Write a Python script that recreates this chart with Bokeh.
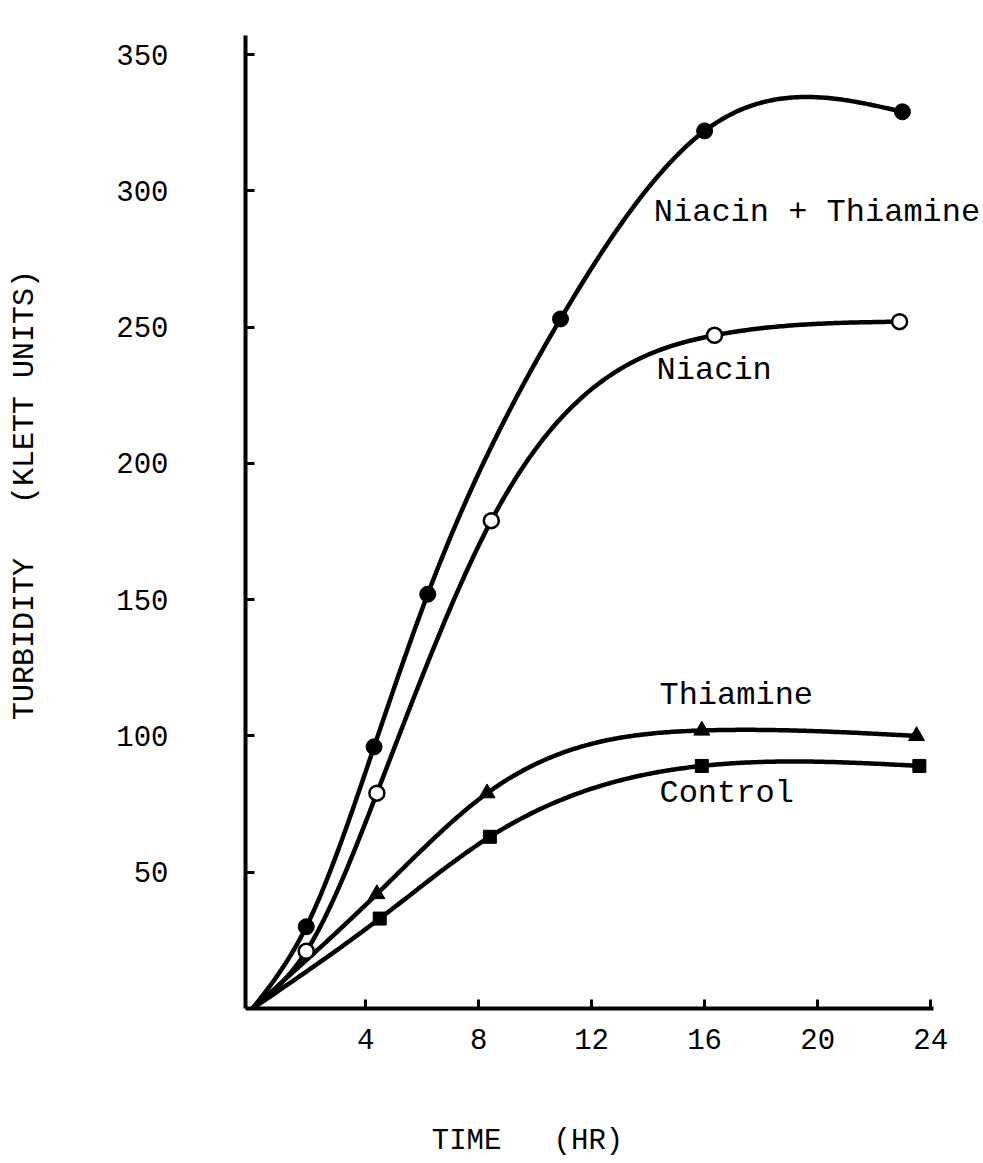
import numpy as np
from bokeh.plotting import figure
from bokeh.models import Range1d, FixedTicker, ColumnDataSource
from bokeh.core.properties import value
from bokeh.embed import file_html
from bokeh.resources import INLINE

# ---------------- data ----------------
# time (hr) and turbidity (Klett units) for each culture
nt_time = [1.9, 4.3, 6.2, 10.9, 16.0, 23.0]          # Niacin + Thiamine (filled circles)
nt_turb = [30, 96, 152, 253, 322, 329]

ni_time = [1.9, 4.4, 8.45, 16.35, 22.9]              # Niacin (open circles)
ni_turb = [21, 79, 179, 247, 252]

th_time = [4.4, 8.3, 15.9, 23.5]                     # Thiamine (triangles)
th_turb = [42, 79, 102, 100]

co_time = [4.5, 8.4, 15.9, 23.6]                     # Control (squares)
co_turb = [33, 63, 89, 89]

origin_time = 0.0                                    # all curves start at time 0
origin_turb = 0.0

x_ticks = [4, 8, 12, 16, 20, 24]
y_ticks = [50, 100, 150, 200, 250, 300, 350]

series_names = ["Niacin + Thiamine", "Niacin", "Thiamine", "Control"]
NBSP = "\u00a0"
x_title = "TIME" + NBSP * 3 + "(HR)"
y_title = "TURBIDITY" + NBSP * 3 + "(KLETT UNITS)"

# ---------------- styling / placement ----------------
FONT = "Liberation Mono"
label_pos = {  # (x, y) in data units, left/middle anchored
    "Niacin + Thiamine": (14.2, 292),
    "Niacin": (14.3, 234),
    "Thiamine": (14.4, 115),
    "Control": (14.4, 79),
}
X_START, X_AXIS_END, X_VIEW_END = -0.25, 24.1, 25.87
Y_START, Y_END = 0, 357
X_TITLE_PAD = 10   # non-breaking spaces used to shift the centred x title left
Y_TITLE_PAD = 3    # non-breaking spaces used to shift the centred y title up


def natural_spline(xs, ys, n=300):
    xs = np.asarray(xs, float)
    ys = np.asarray(ys, float)
    k = len(xs)
    h = np.diff(xs)
    A = np.zeros((k, k))
    b = np.zeros(k)
    A[0, 0] = 1.0
    A[-1, -1] = 1.0
    for i in range(1, k - 1):
        A[i, i - 1] = h[i - 1]
        A[i, i] = 2 * (h[i - 1] + h[i])
        A[i, i + 1] = h[i]
        b[i] = 6 * ((ys[i + 1] - ys[i]) / h[i] - (ys[i] - ys[i - 1]) / h[i - 1])
    M = np.linalg.solve(A, b)
    xx = np.linspace(xs[0], xs[-1], n)
    idx = np.clip(np.searchsorted(xs, xx) - 1, 0, k - 2)
    x0, x1 = xs[idx], xs[idx + 1]
    y0, y1 = ys[idx], ys[idx + 1]
    m0, m1 = M[idx], M[idx + 1]
    hh = x1 - x0
    t0 = x1 - xx
    t1 = xx - x0
    yy = (m0 * t0 ** 3 + m1 * t1 ** 3) / (6 * hh) + (y0 / hh - m0 * hh / 6) * t0 + (y1 / hh - m1 * hh / 6) * t1
    return xx, yy


p = figure(
    width=983, height=1163,
    output_backend="svg", toolbar_location=None,
    x_range=Range1d(X_START, X_VIEW_END), y_range=Range1d(Y_START, Y_END),
    min_border_left=245, min_border_right=0,
    min_border_top=35, min_border_bottom=155,
)
p.outline_line_color = None
p.xgrid.visible = False
p.ygrid.visible = False
p.background_fill_color = "white"
p.border_fill_color = "white"

# curves
for tx, ty in [(nt_time, nt_turb), (ni_time, ni_turb), (th_time, th_turb), (co_time, co_turb)]:
    xx, yy = natural_spline([origin_time] + tx, [origin_turb] + ty)
    p.line(xx, yy, line_color="black", line_width=4.5, line_cap="round", line_join="round")

# markers
p.scatter(nt_time, nt_turb, marker="circle", size=16, fill_color="black", line_color="black")
p.scatter(ni_time, ni_turb, marker="circle", size=15, fill_color="white", line_color="black", line_width=2.5)
p.scatter(th_time, th_turb, marker="triangle", size=16, fill_color="black", line_color="black")
p.scatter(co_time, co_turb, marker="square", size=13, fill_color="black", line_color="black")

# curve labels
src = ColumnDataSource(dict(
    x=[label_pos[n][0] for n in series_names],
    y=[label_pos[n][1] for n in series_names],
    t=series_names,
))
p.text(x="x", y="y", text="t", source=src, text_font=value(FONT), text_font_size="32px",
       text_color="black", text_align="left", text_baseline="middle")

# axes
for ax in (p.xaxis[0], p.yaxis[0]):
    ax.axis_line_width = 4
    ax.axis_line_color = "black"
    ax.major_tick_in = 9
    ax.major_tick_out = 0
    ax.major_tick_line_width = 3
    ax.minor_tick_line_color = None
    ax.major_label_text_font = FONT
    ax.major_label_text_font_size = "29px"
    ax.major_label_text_color = "black"
    ax.axis_label_text_font = FONT
    ax.axis_label_text_font_style = "normal"
    ax.axis_label_text_color = "black"

p.xaxis[0].ticker = FixedTicker(ticks=x_ticks)
p.yaxis[0].ticker = FixedTicker(ticks=y_ticks)
p.xaxis[0].bounds = (X_START, X_AXIS_END)
p.xaxis[0].major_label_standoff = 20
p.yaxis[0].major_label_standoff = 77

p.xaxis[0].axis_label = x_title + NBSP * X_TITLE_PAD
p.xaxis[0].axis_label_text_font_size = "29px"
p.xaxis[0].axis_label_standoff = 73
p.yaxis[0].axis_label = NBSP * Y_TITLE_PAD + y_title
p.yaxis[0].axis_label_text_font_size = "30px"
p.yaxis[0].axis_label_standoff = 71

open("out.html", "w").write(file_html(p, INLINE))
